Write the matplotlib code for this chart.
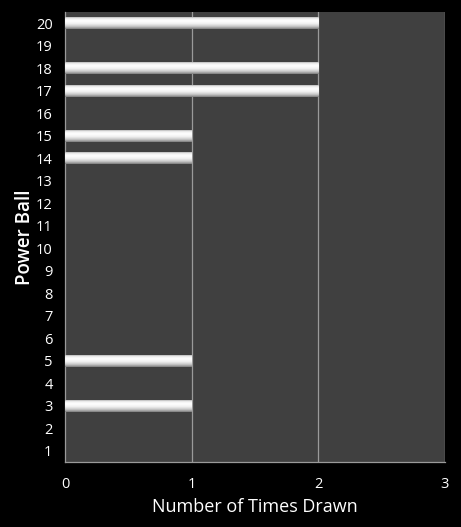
import numpy as np
import matplotlib
matplotlib.use('Agg')
import matplotlib.pyplot as plt
from matplotlib.colors import LinearSegmentedColormap

# power ball numbers and how often each was drawn
balls = list(range(1, 21))
counts = [0, 0, 1, 0, 1, 0, 0, 0, 0, 0, 0, 0, 0, 1, 1, 0, 2, 2, 0, 2]
x_ticks = [0, 1, 2, 3]

plt.rcParams['font.family'] = ['Open Sans', 'DejaVu Sans']

fig = plt.figure(figsize=(4.61, 5.27), dpi=100, facecolor='black')
ax = fig.add_axes([0.141, 0.123, 0.824, 0.854])
ax.set_facecolor('#404040')

bar_h = 0.5
# silver gradient, top -> bottom
grad_cmap = LinearSegmentedColormap.from_list(
    'silver', [(0.0, '#b8b8b8'), (0.12, '#f0f0f0'), (0.3, '#ffffff'),
               (0.55, '#f2f2f2'), (0.8, '#c4c4c4'), (1.0, '#7c7c7c')])
grad = np.linspace(0, 1, 64).reshape(-1, 1)

for b, c in zip(balls, counts):
    if c <= 0:
        continue
    ax.imshow(grad, cmap=grad_cmap, aspect='auto', interpolation='bilinear',
              extent=[0, c, b - bar_h / 2, b + bar_h / 2], origin='upper', zorder=3)

for v in x_ticks[1:]:
    ax.axvline(v, color='#9a9a9a', linewidth=0.9, zorder=1)

ax.set_xlim(0, 3)
ax.set_ylim(0.5, 20.5)
ax.set_xticks(x_ticks)
ax.set_yticks(balls)
ax.tick_params(colors='white', labelsize=10.5, length=0, pad=9)
ax.tick_params(axis='x', pad=11)

for side in ['top', 'right']:
    ax.spines[side].set_visible(False)
for side in ['left', 'bottom']:
    ax.spines[side].set_color('#9a9a9a')
    ax.spines[side].set_linewidth(0.9)

ax.set_xlabel('Number of Times Drawn', color='white', fontsize=13, labelpad=4)
ax.set_ylabel('Power Ball', color='white', fontsize=13.5, fontweight='semibold', labelpad=0.5)

fig.savefig('out.png', dpi=100, facecolor='black')
